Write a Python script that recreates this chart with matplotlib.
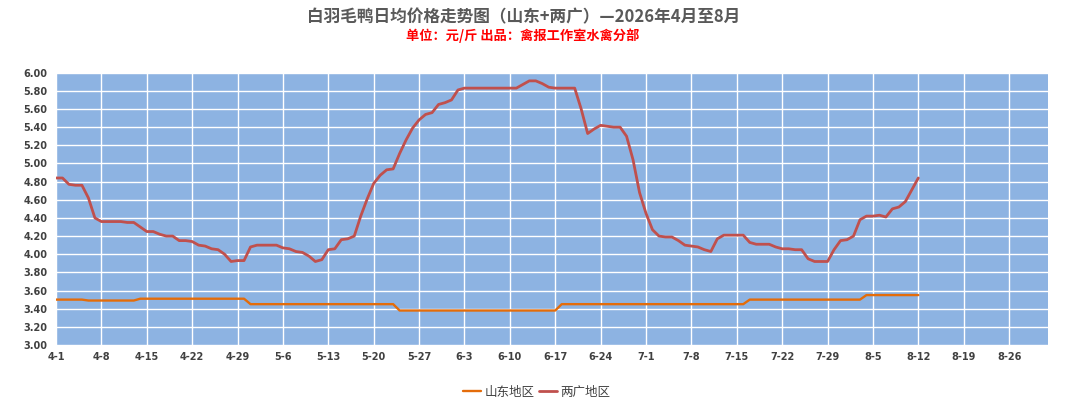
import matplotlib
matplotlib.use("Agg")
import matplotlib.pyplot as plt
import numpy as np
import pandas as pd

plt.rcParams['font.family'] = ['Noto Sans CJK SC', 'DejaVu Sans']

# ---- data ----
start_date = "2026-04-01"
axis_end_date = "2026-09-01"

shandong = [
    3.50, 3.50, 3.50, 3.50, 3.50,
    3.49, 3.49, 3.49, 3.49, 3.49, 3.49, 3.49, 3.49,
    3.51, 3.51, 3.51, 3.51, 3.51, 3.51, 3.51, 3.51, 3.51, 3.51, 3.51, 3.51, 3.51, 3.51, 3.51, 3.51, 3.51,
    3.45, 3.45, 3.45, 3.45, 3.45, 3.45, 3.45, 3.45, 3.45, 3.45, 3.45, 3.45, 3.45, 3.45, 3.45, 3.45, 3.45,
    3.45, 3.45, 3.45, 3.45, 3.45, 3.45,
    3.38, 3.38, 3.38, 3.38, 3.38, 3.38, 3.38, 3.38, 3.38, 3.38, 3.38, 3.38, 3.38, 3.38, 3.38, 3.38, 3.38,
    3.38, 3.38, 3.38, 3.38, 3.38, 3.38, 3.38, 3.38,
    3.45, 3.45, 3.45, 3.45, 3.45, 3.45, 3.45, 3.45, 3.45, 3.45, 3.45, 3.45, 3.45, 3.45, 3.45, 3.45, 3.45,
    3.45, 3.45, 3.45, 3.45, 3.45, 3.45, 3.45, 3.45, 3.45, 3.45, 3.45, 3.45,
    3.50, 3.50, 3.50, 3.50, 3.50, 3.50, 3.50, 3.50, 3.50, 3.50, 3.50, 3.50, 3.50, 3.50, 3.50, 3.50, 3.50,
    3.50,
    3.55, 3.55, 3.55, 3.55, 3.55, 3.55, 3.55, 3.55, 3.55,
]

liangguang = [
    4.84, 4.84, 4.77, 4.76, 4.76, 4.62, 4.40, 4.36, 4.36, 4.36,
    4.36, 4.35, 4.35, 4.30, 4.25, 4.25, 4.22, 4.20, 4.20, 4.15,
    4.15, 4.14, 4.10, 4.09, 4.06, 4.05, 4.00, 3.92, 3.93, 3.93,
    4.08, 4.10, 4.10, 4.10, 4.10, 4.07, 4.06, 4.03, 4.02, 3.98,
    3.92, 3.94, 4.05, 4.06, 4.16, 4.17, 4.20, 4.42, 4.61, 4.78,
    4.87, 4.93, 4.94, 5.11, 5.26, 5.39, 5.48, 5.54, 5.56, 5.65,
    5.67, 5.70, 5.81, 5.83, 5.83, 5.83, 5.83, 5.83, 5.83, 5.83,
    5.83, 5.83, 5.87, 5.91, 5.91, 5.88, 5.84, 5.83, 5.83, 5.83,
    5.83, 5.60, 5.33, 5.38, 5.42, 5.41, 5.40, 5.40, 5.30, 5.04,
    4.68, 4.45, 4.27, 4.20, 4.19, 4.19, 4.15, 4.10, 4.09, 4.08,
    4.05, 4.03, 4.17, 4.21, 4.21, 4.21, 4.21, 4.13, 4.11, 4.11,
    4.11, 4.08, 4.06, 4.06, 4.05, 4.05, 3.95, 3.92, 3.92, 3.92,
    4.05, 4.15, 4.16, 4.20, 4.38, 4.42, 4.42, 4.43, 4.41, 4.50,
    4.52, 4.58, 4.71, 4.84,
]

series_names = ["山东地区", "两广地区"]
y_ticks = [3.00, 3.20, 3.40, 3.60, 3.80, 4.00, 4.20, 4.40, 4.60, 4.80,
           5.00, 5.20, 5.40, 5.60, 5.80, 6.00]
tick_labels = ["4-1", "4-8", "4-15", "4-22", "4-29", "5-6", "5-13", "5-20",
               "5-27", "6-3", "6-10", "6-17", "6-24", "7-1", "7-8", "7-15",
               "7-22", "7-29", "8-5", "8-12", "8-19", "8-26"]

title = "白羽毛鸭日均价格走势图（山东+两广）—2026年4月至8月"
subtitle = "单位：元/斤 出品：禽报工作室水禽分部"

# ---- plotting ----
dates = pd.date_range(start_date, periods=len(liangguang), freq="D")
t0 = pd.Timestamp(start_date)
x = (dates - t0).days.values
x_end = (pd.Timestamp(axis_end_date) - t0).days
tick_pos = [(pd.Timestamp("2026-" + lbl) - t0).days for lbl in tick_labels]

fig = plt.figure(figsize=(10.8, 4.11), dpi=100)
ax = fig.add_axes([56 / 1080, 1 - 345 / 411, (1048 - 56) / 1080, (345 - 72.7) / 411])
ax.set_facecolor("#8DB3E2")

ax.plot(x, shandong, color="#E46C0A", lw=1.7, solid_joinstyle="round",
        solid_capstyle="round", label=series_names[0], zorder=3)
ax.plot(x, liangguang, color="#C0504D", lw=2.0, solid_joinstyle="round",
        solid_capstyle="round", label=series_names[1], zorder=3)

ax.set_xlim(0, x_end)
ax.set_ylim(3.0, 6.0)
ax.set_yticks(y_ticks)
ax.set_yticklabels([f"{v:.2f}" for v in y_ticks])
ax.set_xticks(tick_pos)
ax.set_xticklabels(tick_labels)
ax.grid(True, color="white", lw=1.0)
ax.set_axisbelow(True)
for s in ax.spines.values():
    s.set_visible(False)
ax.tick_params(axis="both", length=0, colors="#404040", labelsize=7)
ax.tick_params(axis="y", pad=6)
ax.tick_params(axis="x", pad=5)
for lbl in ax.get_xticklabels() + ax.get_yticklabels():
    lbl.set_fontfamily(["DejaVu Sans"])
    lbl.set_fontweight("bold")
    lbl.set_color("#404040")

fig.text(0.485, 1 - 17 / 411, title, ha="center", va="center",
         fontsize=12, fontweight="bold", color="#595959")
fig.text(0.484, 1 - 36 / 411, subtitle, ha="center", va="center",
         fontsize=9.5, fontweight="bold", color="#FF0000")

fig.legend(loc="center", bbox_to_anchor=(0.497, 1 - 392 / 411), ncol=2,
           frameon=False, fontsize=9, handlelength=1.4, handletextpad=0.3,
           columnspacing=0.4, labelcolor="#404040")

fig.savefig("out.png", dpi=100, facecolor="white")
